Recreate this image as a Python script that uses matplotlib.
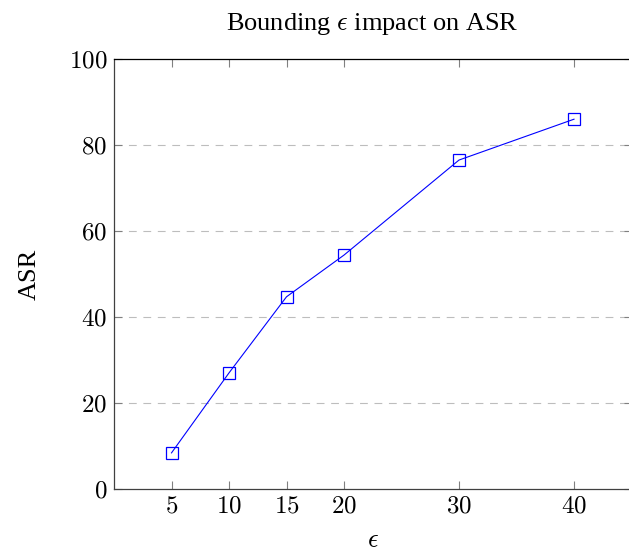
import numpy as np
import matplotlib
matplotlib.use('Agg')
import matplotlib.pyplot as plt

# data
eps = [5, 10, 15, 20, 30, 40]
asr = [8.4, 27.0, 44.7, 54.4, 76.5, 86.0]
y_ticks = [0, 20, 40, 60, 80, 100]

plt.rcParams['font.family'] = ['Liberation Serif', 'DejaVu Serif']
plt.rcParams['mathtext.fontset'] = 'cm'

fig = plt.figure(figsize=(6.29, 5.54), dpi=100)
ax = fig.add_axes([114 / 629, 65 / 554, 517.5 / 629, 430 / 554])

ax.plot(eps, asr, color='blue', linewidth=0.8, marker='s', markersize=8,
        markerfacecolor='none', markeredgecolor='blue', markeredgewidth=0.9)

ax.set_xlim(0, 45)
ax.set_ylim(0, 100)
ax.set_xticks(eps)
ax.set_xticklabels(['$%d$' % e for e in eps], fontsize=18)
ax.set_yticks(y_ticks)
ax.set_yticklabels(['$%d$' % t for t in y_ticks], fontsize=18)

# dashed horizontal grid, like pgfplots
for t in y_ticks[1:-1]:
    ax.axhline(t, color='#bdbdbd', linestyle=(0, (7, 6)), linewidth=0.8, zorder=0)

ax.tick_params(direction='in', length=6, width=0.8, color='#808080',
               top=True, right=True, pad=5)
for side in ['left', 'bottom', 'right']:
    ax.spines[side].set_color('#404040')
ax.spines['top'].set_color('black')
for s in ax.spines.values():
    s.set_linewidth(0.9)

ax.set_xlabel(r'$\epsilon$', fontsize=19, labelpad=9)
ax.set_ylabel('ASR', fontsize=19, labelpad=20)
ax.set_title(r'Bounding $\epsilon$ impact on ASR', fontsize=19, pad=21)

fig.savefig('out.png', dpi=100)
